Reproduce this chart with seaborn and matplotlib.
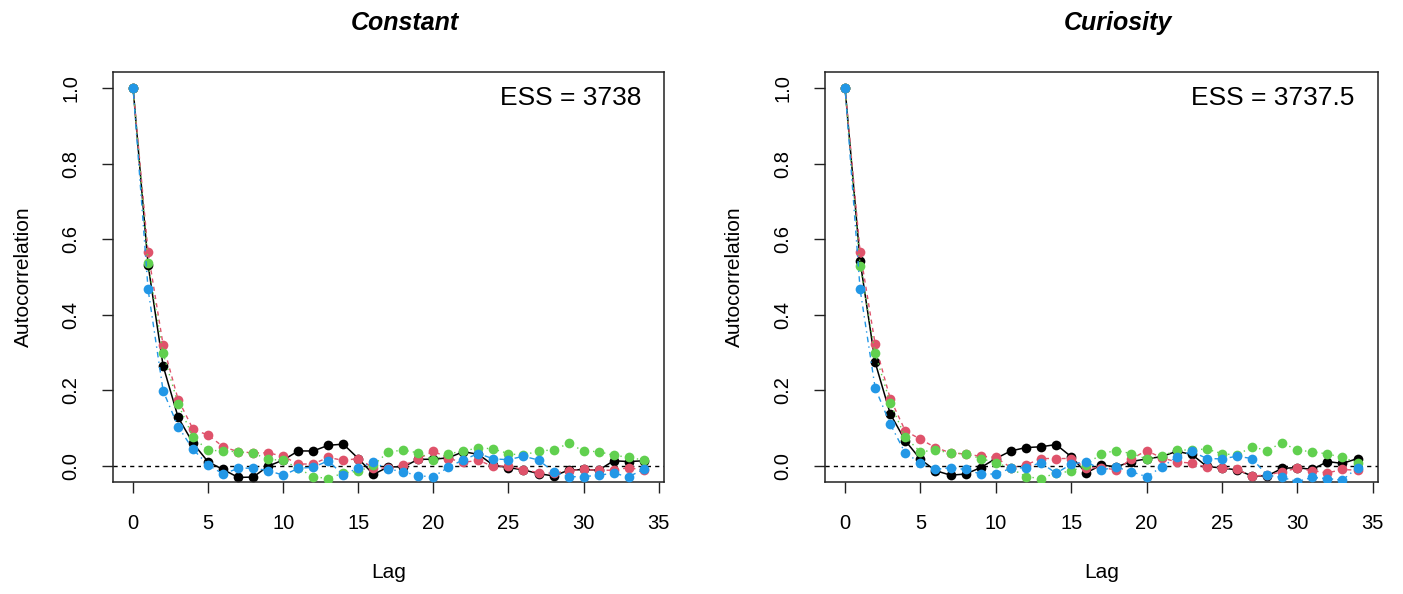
import seaborn as sns
import pandas as pd
import numpy as np
import matplotlib.pyplot as plt

lags = list(range(35))
titles = ['Constant', 'Curiosity']
ess_labels = ['ESS = 3738', 'ESS = 3737.5']

# Constant model, four chains
const_black = [1.0, 0.532, 0.265, 0.129, 0.060, 0.011, -0.009, -0.030, -0.029, 0.0, 0.016, 0.040, 0.040, 0.055, 0.058,
               0.020, -0.022, -0.002, -0.002, 0.018, 0.018, 0.022, 0.038, 0.031, 0.002, -0.004, -0.010, -0.020, -0.026,
               -0.011, -0.009, -0.011, 0.014, 0.012, 0.014]
const_red = [1.0, 0.565, 0.320, 0.176, 0.097, 0.082, 0.051, 0.038, 0.035, 0.035, 0.026, 0.005, 0.006, 0.023, 0.015,
             0.020, -0.005, -0.005, 0.002, 0.019, 0.040, 0.020, 0.010, 0.015, -0.001, 0.001, -0.010, -0.017, -0.019,
             -0.012, -0.009, -0.011, -0.011, -0.004, -0.011]
const_green = [1.0, 0.538, 0.298, 0.164, 0.076, 0.042, 0.040, 0.038, 0.034, 0.018, 0.015, -0.006, -0.028, -0.033, -0.018,
               -0.014, 0.002, 0.038, 0.042, 0.035, 0.016, 0.033, 0.039, 0.049, 0.045, 0.033, 0.028, 0.041, 0.042,
               0.060, 0.040, 0.038, 0.029, 0.023, 0.016]
const_blue = [1.0, 0.467, 0.199, 0.104, 0.044, 0.003, -0.021, -0.006, -0.005, -0.012, -0.024, -0.006, -0.003, 0.014, -0.024,
              -0.004, 0.010, -0.008, -0.015, -0.026, -0.028, -0.003, 0.017, 0.033, 0.019, 0.017, 0.026, 0.016, -0.015,
              -0.028, -0.028, -0.024, -0.019, -0.028, -0.009]

# Curiosity model, four chains
cur_black = [1.0, 0.542, 0.274, 0.138, 0.067, 0.018, -0.012, -0.024, -0.021, -0.004, 0.020, 0.040, 0.049, 0.051, 0.057,
             0.025, -0.018, 0.003, -0.002, 0.012, 0.019, 0.025, 0.039, 0.031, -0.001, -0.005, -0.010, -0.026, -0.026,
             -0.006, -0.004, -0.009, 0.012, 0.007, 0.020]
cur_red = [1.0, 0.567, 0.322, 0.178, 0.093, 0.071, 0.049, 0.035, 0.032, 0.026, 0.023, -0.004, 0.003, 0.020, 0.020,
           0.020, -0.005, -0.004, -0.010, 0.019, 0.041, 0.022, 0.011, 0.008, -0.003, -0.004, -0.009, -0.026, -0.024,
           -0.015, -0.006, -0.012, -0.018, -0.009, -0.011]
cur_green = [1.0, 0.530, 0.298, 0.167, 0.076, 0.038, 0.042, 0.035, 0.032, 0.020, 0.009, -0.006, -0.028, -0.033, -0.018,
             -0.014, 0.003, 0.033, 0.041, 0.033, 0.019, 0.026, 0.042, 0.043, 0.045, 0.033, 0.029, 0.051, 0.041,
             0.062, 0.042, 0.038, 0.032, 0.023, 0.009]
cur_blue = [1.0, 0.467, 0.206, 0.111, 0.034, 0.009, -0.009, -0.004, -0.009, -0.021, -0.021, -0.006, -0.004, 0.009, -0.019,
            0.005, 0.012, -0.010, -0.003, -0.015, -0.028, -0.003, 0.024, 0.039, 0.020, 0.019, 0.026, 0.020, -0.024,
            -0.030, -0.041, -0.030, -0.033, -0.037, -0.004]

panels = [
    [const_black, const_red, const_green, const_blue],
    [cur_black, cur_red, cur_green, cur_blue],
]

# R default palette and line types 1..4
colors = ['black', '#DF536B', '#61D04F', '#2297E6']
styles = ['-', (0, (3, 3)), (0, (1, 3)), (0, (1, 3, 4, 3))]
widths = [1.1, 1.0, 1.0, 1.0]

sns.set_style('ticks')
plt.rcParams['font.family'] = ['Liberation Sans', 'DejaVu Sans']
plt.rcParams['text.color'] = 'black'
plt.rcParams['axes.labelcolor'] = 'black'
plt.rcParams['xtick.color'] = 'black'
plt.rcParams['ytick.color'] = 'black'

fig = plt.figure(figsize=(14.03, 5.94), dpi=100)
positions = [[0.0803, 0.1886, 0.3930, 0.6902],
             [0.5877, 0.1886, 0.3945, 0.6902]]

for i in range(2):
    ax = fig.add_axes(positions[i])
    ax.axhline(0, color='black', linestyle=(0, (3, 3)), linewidth=1.0, zorder=1)
    for j in range(4):
        sns.lineplot(x=lags, y=panels[i][j], ax=ax, color=colors[j], linestyle=styles[j],
                     linewidth=widths[j], marker='o', markersize=7, markeredgewidth=0, zorder=2 + j)
    ax.set_xlim(-1.36, 35.36)
    ax.set_ylim(-0.042, 1.042)
    ax.set_xticks(range(0, 36, 5))
    ax.set_yticks([0.0, 0.2, 0.4, 0.6, 0.8, 1.0])
    ax.set_yticklabels(['0.0', '0.2', '0.4', '0.6', '0.8', '1.0'], rotation=90, va='center')
    ax.tick_params(axis='both', direction='out', length=8, width=1.0, pad=15, labelsize=14.5, color='#222222')
    for s in ax.spines.values():
        s.set_linewidth(1.1)
        s.set_color('#222222')
    ax.set_xlabel('Lag', fontsize=15, labelpad=22)
    ax.set_ylabel('Autocorrelation', fontsize=15, labelpad=21)
    ax.set_title(titles[i], fontsize=18, fontweight='bold', fontstyle='italic', x=0.53, pad=30)
    ax.text(0.958, 0.937, ess_labels[i], transform=ax.transAxes, ha='right', va='center', fontsize=19)

plt.savefig('out.png', dpi=100)
